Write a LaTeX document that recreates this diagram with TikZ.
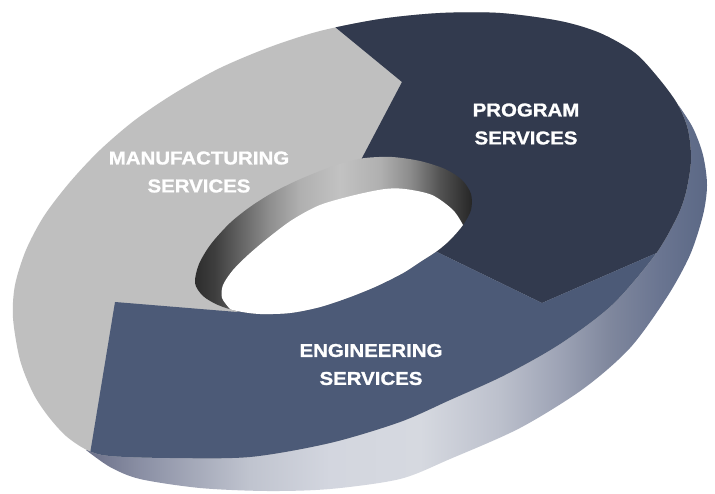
\documentclass[tikz,border=0pt]{standalone}
\usepackage{fontspec}
\newfontfamily\labelfont[FakeStretch=1.1,FakeBold=1.2]{Liberation Sans Bold}
\definecolor{manugray}{HTML}{BFBFBF}
\definecolor{progblue}{HTML}{323A4E}
\definecolor{engblue}{HTML}{4C5A77}
% side wall colours
\definecolor{s1}{HTML}{6A6F88}\definecolor{s2}{HTML}{8A8FA4}\definecolor{s3}{HTML}{C0C4CF}
\definecolor{s4}{HTML}{D3D6DF}\definecolor{s5}{HTML}{D6D9E0}\definecolor{s6}{HTML}{BCC0CC}
\definecolor{s7}{HTML}{9DA3B5}\definecolor{s8}{HTML}{7F879D}\definecolor{s9}{HTML}{6A7591}
\definecolor{s10}{HTML}{5B6885}
% inner wall colours
\definecolor{w1}{HTML}{2B2B2B}\definecolor{w2}{HTML}{3E3E3E}\definecolor{w3}{HTML}{636363}
\definecolor{w4}{HTML}{8F8F8F}\definecolor{w5}{HTML}{B0B0B0}\definecolor{w6}{HTML}{C2C2C2}
\definecolor{w7}{HTML}{B0B0B0}\definecolor{w8}{HTML}{8C8C8C}\definecolor{w9}{HTML}{525252}
\definecolor{w10}{HTML}{262626}
\pgfdeclarehorizontalshading{sideshade}{100bp}{color(0bp)=(s1); color(25bp)=(s1);
 color(29.42bp)=(s2); color(38.26bp)=(s3); color(44.69bp)=(s4); color(51.93bp)=(s5);
 color(58.36bp)=(s6); color(63.18bp)=(s7); color(67.2bp)=(s8); color(71.22bp)=(s9);
 color(75bp)=(s10); color(100bp)=(s10)}
\pgfdeclarehorizontalshading{wallshade}{100bp}{color(0bp)=(w1); color(25bp)=(w1);
 color(28.9bp)=(w2); color(33.4bp)=(w3); color(38.8bp)=(w4); color(44.2bp)=(w5);
 color(51.3bp)=(w6); color(58.5bp)=(w7); color(63.9bp)=(w8); color(69.3bp)=(w9);
 color(75bp)=(w10); color(100bp)=(w10)}
\tikzset{
  lbl/.style={text=white, inner sep=0pt, align=center,
    font=\labelfont\fontsize{13.2}{19.9}\selectfont}
}
\begin{document}
\begin{tikzpicture}
\begin{scope}[yshift=12.325cm, x=0.025cm, y=-0.025cm]
\fill[white] (0,0) rectangle (715,493);
\useasboundingbox (0,0) rectangle (715,493);

% outer side wall
\begin{scope}
\clip plot[smooth] coordinates {(86,450) (110,467) (140,479) (200,488) (267,491) (330,489)
  (400,479) (450,459) (520,428) (583,389) (630,348) (667,297) (690,255) (703,215)
  (707,185) (703,155) (693,128) (679,106)} -- (600,150) -- (300,400) -- cycle;
\shade[shading=sideshade] (85,90) rectangle (707,495);
\end{scope}

% top face
\begin{scope}
\clip plot[smooth cycle] coordinates {(13,318) (15,285) (26,250) (44,216) (70,182)
  (100,150) (135,120) (175,93) (220,68) (270,47) (320,31) (380,19) (440,13) (500,13)
  (560,21) (600,33) (635,53) (660,80) (678,105) (688,130) (691,160) (686,192) (677,217)
  (655,255) (612,305) (560,344) (505,375) (450,400) (400,422) (330,443) (250,457)
  (170,458) (110,456) (87,450) (66,436) (48,416) (33,393) (20,360)};
\fill[manugray] (-10,-40) rectangle (730,540);
\fill[progblue] (330,235) -- (362,158) -- (402,82) -- (335,27) -- (268,-28) -- (800,-28)
  -- (800,207) -- (762,207) -- (652,255) -- (542,303) -- (437,252) -- cycle;
\fill[engblue] (330,235) -- (437,252) -- (542,303) -- (652,255) -- (762,207) -- (800,207)
  -- (800,560) -- (77,530) -- (90,454) -- (115,302) -- (237,312) -- cycle;
\end{scope}

% hole with inner wall
\begin{scope}
\clip plot[smooth cycle] coordinates {(195,283) (199,264) (211,244) (230,223) (250,207)
  (272,193) (296,181) (320,171) (343,163) (365,158) (392,157) (420,161) (445,169)
  (462,180) (471,194) (471,210) (463,225) (450,240) (437,251) (420,262) (403,273)
  (377,286) (350,297) (320,307) (290,313) (260,314) (237,311) (218,305) (203,296)};
\shade[shading=wallshade] (193,150) rectangle (472,320);
\fill[white] plot[smooth] coordinates {(463,225) (453,210) (432,195) (405,189) (385,189)
  (355,195) (320,205) (292,220) (268,238) (248,255) (233,270) (223,285) (222,298)
  (230,309)} -- (240,345) -- (520,345) -- (520,225) -- cycle;
\end{scope}

% labels
\node[lbl] (prog) at (526,124) {PROGRAM\\SERVICES};
\node[lbl] (manu) at (199,172) {MANUFACTURING\\SERVICES};
\node[lbl] (eng) at (371,364.5) {ENGINEERING\\SERVICES};
\end{scope}
\end{tikzpicture}
\end{document}
